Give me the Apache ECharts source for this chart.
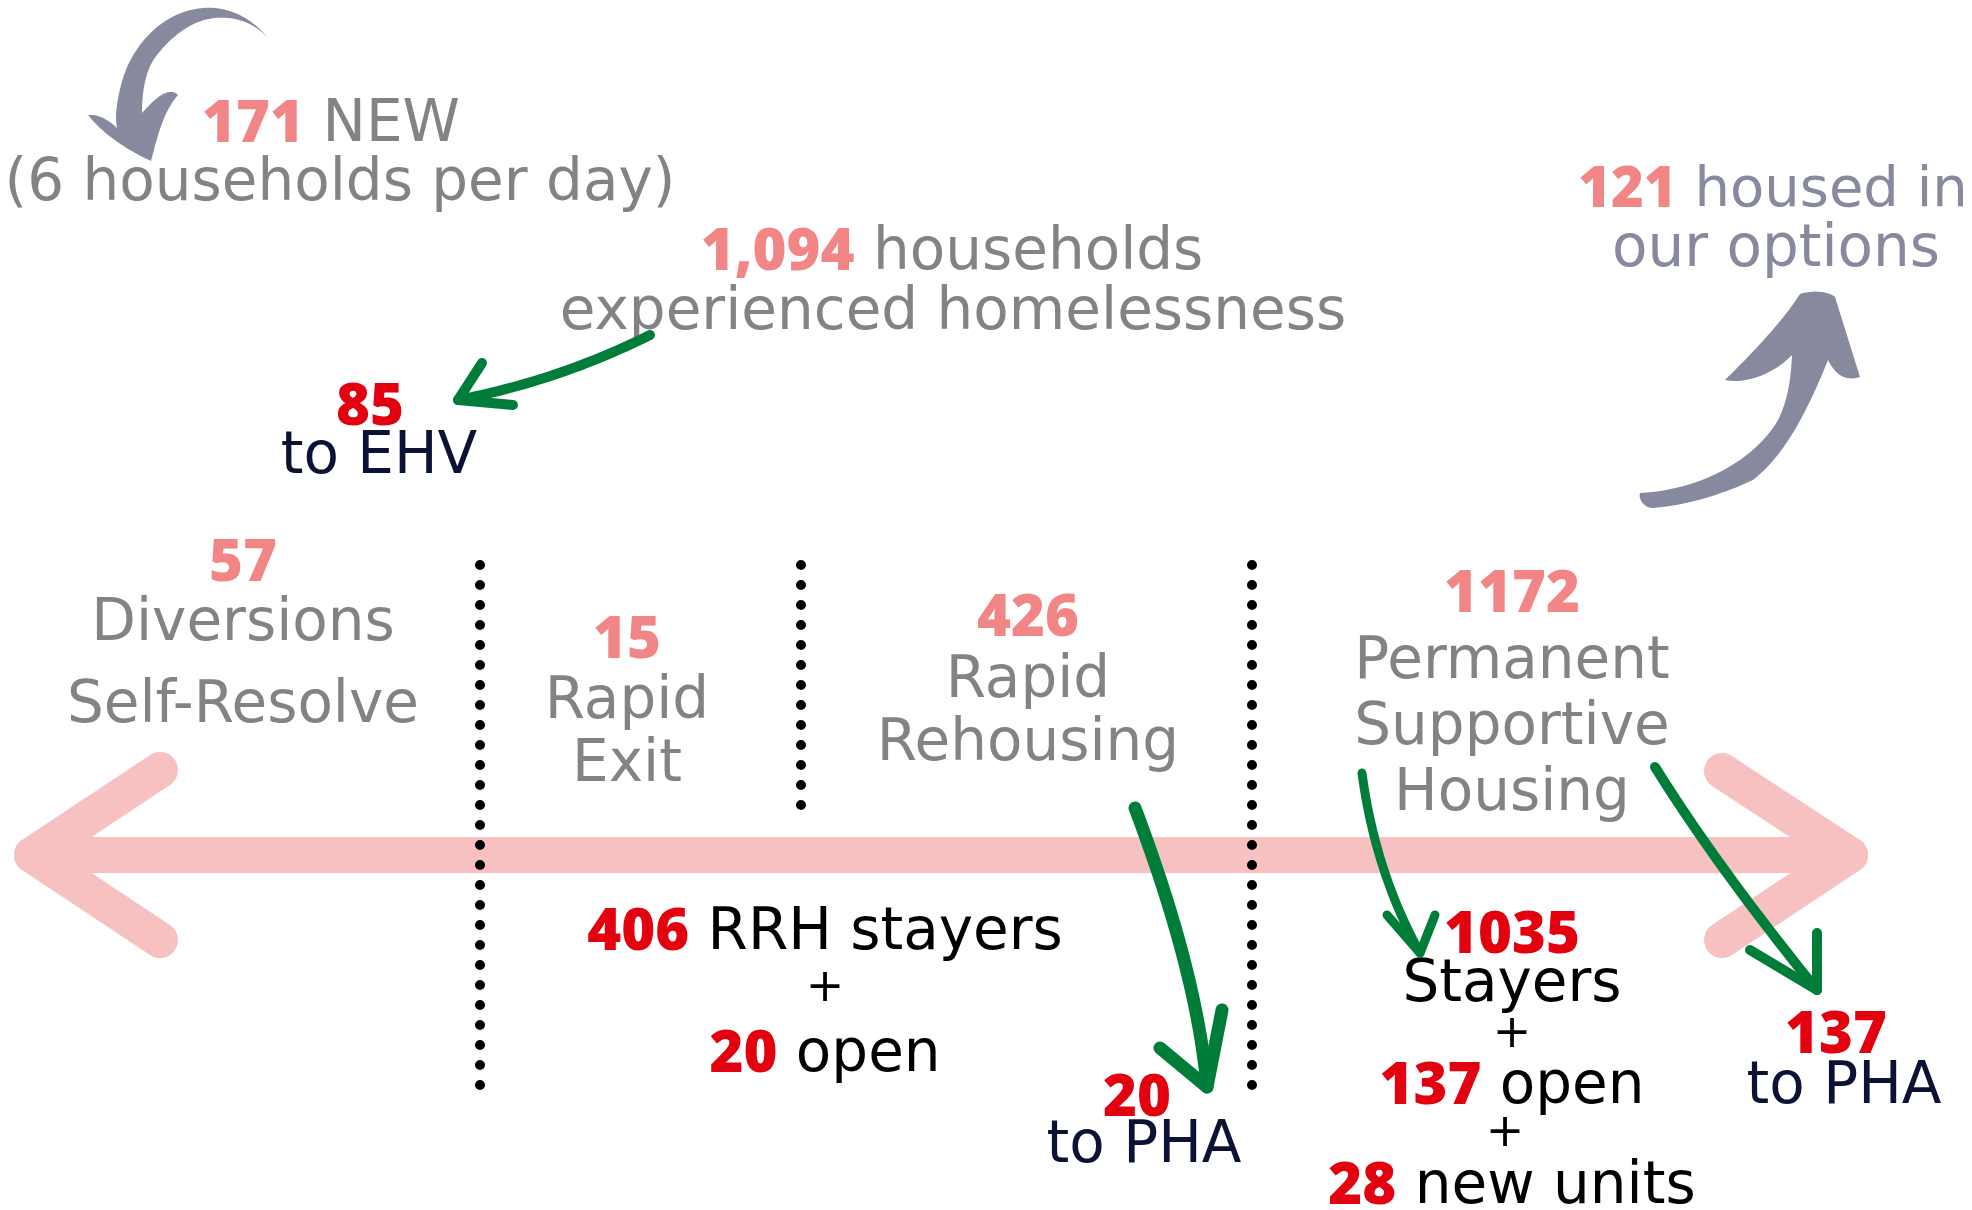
<!DOCTYPE html>
<html><head><meta charset="utf-8">
<script src="https://cdn.jsdelivr.net/npm/echarts@6/dist/echarts.min.js"></script>
<style>html,body{margin:0;padding:0;background:#fff}#chart{width:1972px;height:1210px}</style>
</head><body><div id="chart"></div>
<script>
// ---------------- data ----------------
const programNames = [['Diversions', 'Self-Resolve'], ['Rapid', 'Exit'], ['Rapid', 'Rehousing'], ['Permanent', 'Supportive', 'Housing']];
const programCounts = [57, 15, 426, 1172];
const inflowValues = [171, 6, 1094];
const inflowLabels = ['NEW', 'households per day', 'households', 'experienced homelessness'];
const exitValues = [85, 121];
const exitLabels = ['to EHV', 'housed in', 'our options'];
const rrhValues = [406, 20, 20];          // stayers, open, to PHA
const rrhLabels = ['RRH stayers', 'open', 'to PHA'];
const pshValues = [1035, 137, 28, 137];   // stayers, open, new units, to PHA
const pshLabels = ['Stayers', 'open', 'new units', 'to PHA'];

// ---------------- styles / layout ----------------
const C = {
  salmon: '#F28585', red: '#E3000F', gray: '#838383', slate: '#878A9E',
  navy: '#0C1233', black: '#000000', green: '#007E39', pink: '#F7C1C2'
};
const FS = 58;
function richStyles(fs) {
  const reg = '"DejaVu Sans", sans-serif', bold = '"Open Sans", sans-serif';
  const mk = (fill, b) => ({ fill: fill, fontSize: fs, fontFamily: b ? bold : reg, fontWeight: b ? '800' : 'normal' });
  return { sal: mk(C.salmon, 1), red: mk(C.red, 1), gray: mk(C.gray), slate: mk(C.slate), navy: mk(C.navy), blk: mk(C.black) };
}
function T(cx, base, parts, fs) {
  fs = fs || FS;
  return {
    type: 'text', x: cx, y: base - 0.28 * fs, z: 10, silent: true,
    style: {
      text: parts.map(p => '{' + p[1] + '|' + p[0] + '}').join(''),
      rich: richStyles(fs), fontSize: fs,
      align: 'center', verticalAlign: 'middle', textAlign: 'center', textVerticalAlign: 'middle'
    }
  };
}
function sample(segs, n) {
  n = n || 24; const pts = []; let cx = 0, cy = 0;
  segs.forEach(s => {
    const t = s[0];
    if (t === 'M' || t === 'L') { cx = s[1]; cy = s[2]; pts.push([cx, cy]); }
    else if (t === 'Q') {
      const qx = s[1], qy = s[2], x = s[3], y = s[4];
      for (let i = 1; i <= n; i++) { const u = i / n, a = (1 - u) * (1 - u), b = 2 * u * (1 - u), c = u * u; pts.push([a * cx + b * qx + c * x, a * cy + b * qy + c * y]); }
      cx = x; cy = y;
    } else if (t === 'C') {
      const x1 = s[1], y1 = s[2], x2 = s[3], y2 = s[4], x = s[5], y = s[6];
      for (let i = 1; i <= n; i++) {
        const u = i / n, v = 1 - u;
        const a = v * v * v, b = 3 * v * v * u, c = 3 * v * u * u, d = u * u * u;
        pts.push([a * cx + b * x1 + c * x2 + d * x, a * cy + b * y1 + c * y2 + d * y]);
      }
      cx = x; cy = y;
    }
  });
  return pts;
}
const fmt = v => v.toLocaleString('en-US');

const els = [];
// pink double arrow
const pinkStyle = { stroke: C.pink, lineWidth: 36, lineCap: 'round', lineJoin: 'round', fill: null };
els.push({ type: 'polyline', z: 1, silent: true, shape: { points: [[32, 855], [1850, 855]] }, style: pinkStyle });
els.push({ type: 'polyline', z: 1, silent: true, shape: { points: [[160, 770], [32, 855], [160, 940]] }, style: pinkStyle });
els.push({ type: 'polyline', z: 1, silent: true, shape: { points: [[1722, 771], [1850, 855], [1722, 940]] }, style: pinkStyle });

// dotted dividers
[[480, 565, 1085], [801, 565, 805], [1252, 565, 1085]].forEach(d => {
  els.push({ type: 'line', z: 3, silent: true, shape: { x1: d[0], y1: d[1], x2: d[0], y2: d[2] + 1 },
    style: { stroke: '#000', lineWidth: 10, lineCap: 'round', lineDash: [0.01, 19.99] } });
});

// gray arrows
const grayTL = [['M', 268, 38], ['C', 250, 16, 226, 6, 203, 8], ['C', 163, 11, 131, 45, 121, 85], ['C', 116, 105, 115, 118, 117, 128],
  ['C', 108, 119, 97, 114, 88, 115], ['C', 103, 134, 127, 150, 151, 161], ['C', 157, 138, 163, 112, 178, 95],
  ['C', 172, 89, 162, 90, 142, 113], ['C', 142, 90, 146, 68, 157, 55], ['C', 175, 32, 195, 20, 215, 18], ['C', 238, 16, 255, 24, 268, 38]];
const grayR = [['M', 1640, 493], ['C', 1700, 490, 1755, 460, 1778, 420], ['C', 1788, 400, 1791, 378, 1792, 355],
  ['C', 1778, 370, 1750, 385, 1725, 380], ['C', 1750, 355, 1780, 325, 1800, 294], ['C', 1812, 290, 1828, 291, 1835, 297],
  ['L', 1860, 377], ['C', 1850, 380, 1838, 380, 1828, 360], ['C', 1808, 410, 1785, 455, 1753, 480],
  ['C', 1725, 493, 1690, 505, 1653, 508], ['C', 1645, 508, 1638, 500, 1640, 493]];
[grayTL, grayR].forEach(s => els.push({ type: 'polygon', z: 4, silent: true, shape: { points: sample(s) }, style: { fill: C.slate } }));

// green arrows
const greens = [
  { w: 10, body: [['M', 650, 335], ['Q', 560, 380, 458, 400]], head: [[482, 363], [458, 400], [513, 405]] },
  { w: 13, body: [['M', 1135, 808], ['Q', 1197, 972, 1207, 1087]], head: [[1160, 1048], [1207, 1087], [1222, 1010]] },
  { w: 9, body: [['M', 1362, 773], ['Q', 1375, 871, 1420, 953]], head: [[1387, 915], [1420, 953], [1435, 915]] },
  { w: 10, body: [['M', 1655, 767], ['Q', 1718, 868, 1817, 990]], head: [[1750, 950], [1817, 990], [1817, 933]] }
];
greens.forEach(g => {
  const st = { stroke: C.green, lineWidth: g.w, lineCap: 'round', lineJoin: 'round', fill: null };
  els.push({ type: 'polyline', z: 11, silent: true, shape: { points: sample(g.body) }, style: st });
  els.push({ type: 'polyline', z: 11, silent: true, shape: { points: g.head }, style: st });
});

// texts: inflow
els.push(T(331, 142, [[fmt(inflowValues[0]), 'sal'], [' ' + inflowLabels[0], 'gray']]));
els.push(T(340, 201, [['(' + inflowValues[1] + ' ' + inflowLabels[1] + ')', 'gray']]));
els.push(T(952, 270, [[fmt(inflowValues[2]), 'sal'], [' ' + inflowLabels[2], 'gray']]));
els.push(T(953, 330, [[inflowLabels[3], 'gray']]));
// exits
els.push(T(370, 425, [[String(exitValues[0]), 'red']]));
els.push(T(379, 474, [[exitLabels[0], 'navy']]));
els.push(T(1773, 207, [[String(exitValues[1]), 'sal'], [' ' + exitLabels[1], 'slate']], 56));
els.push(T(1776, 267, [[exitLabels[2], 'slate']]));

// program segments
const progX = [243, 627, 1028, 1512];
const progBase = [[581, 641, 723], [658, 719, 782], [636, 698, 761], [612, 679, 745, 811]];
programCounts.forEach((v, i) => {
  els.push(T(progX[i], progBase[i][0], [[String(v), 'sal']]));
  programNames[i].forEach((nm, j) => els.push(T(progX[i], progBase[i][j + 1], [[nm, 'gray']])));
});

// RRH outcomes
els.push(T(825, 950, [[String(rrhValues[0]), 'red'], [' ' + rrhLabels[0], 'blk']]));
els.push(T(825, 1002, [['+', 'blk']], 46));
els.push(T(825, 1072, [[String(rrhValues[1]), 'red'], [' ' + rrhLabels[1], 'blk']]));
els.push(T(1137, 1116, [[String(rrhValues[2]), 'red']]));
els.push(T(1144, 1163, [[rrhLabels[2], 'navy']]));

// PSH outcomes
els.push(T(1512, 953, [[String(pshValues[0]), 'red']]));
els.push(T(1512, 1002, [[pshLabels[0], 'blk']]));
els.push(T(1512, 1048, [['+', 'blk']], 46));
els.push(T(1512, 1104, [[String(pshValues[1]), 'red'], [' ' + pshLabels[1], 'blk']]));
els.push(T(1505, 1147, [['+', 'blk']], 46));
els.push(T(1512, 1204, [[String(pshValues[2]), 'red'], [' ' + pshLabels[2], 'blk']]));
els.push(T(1836, 1053, [[String(pshValues[3]), 'red']]));
els.push(T(1844, 1104, [[pshLabels[3], 'navy']]));

const chart = echarts.init(document.getElementById('chart'), null, { renderer: 'canvas' });
chart.setOption({ backgroundColor: '#ffffff', animation: false, graphic: { elements: els } });
</script>
</body></html>
